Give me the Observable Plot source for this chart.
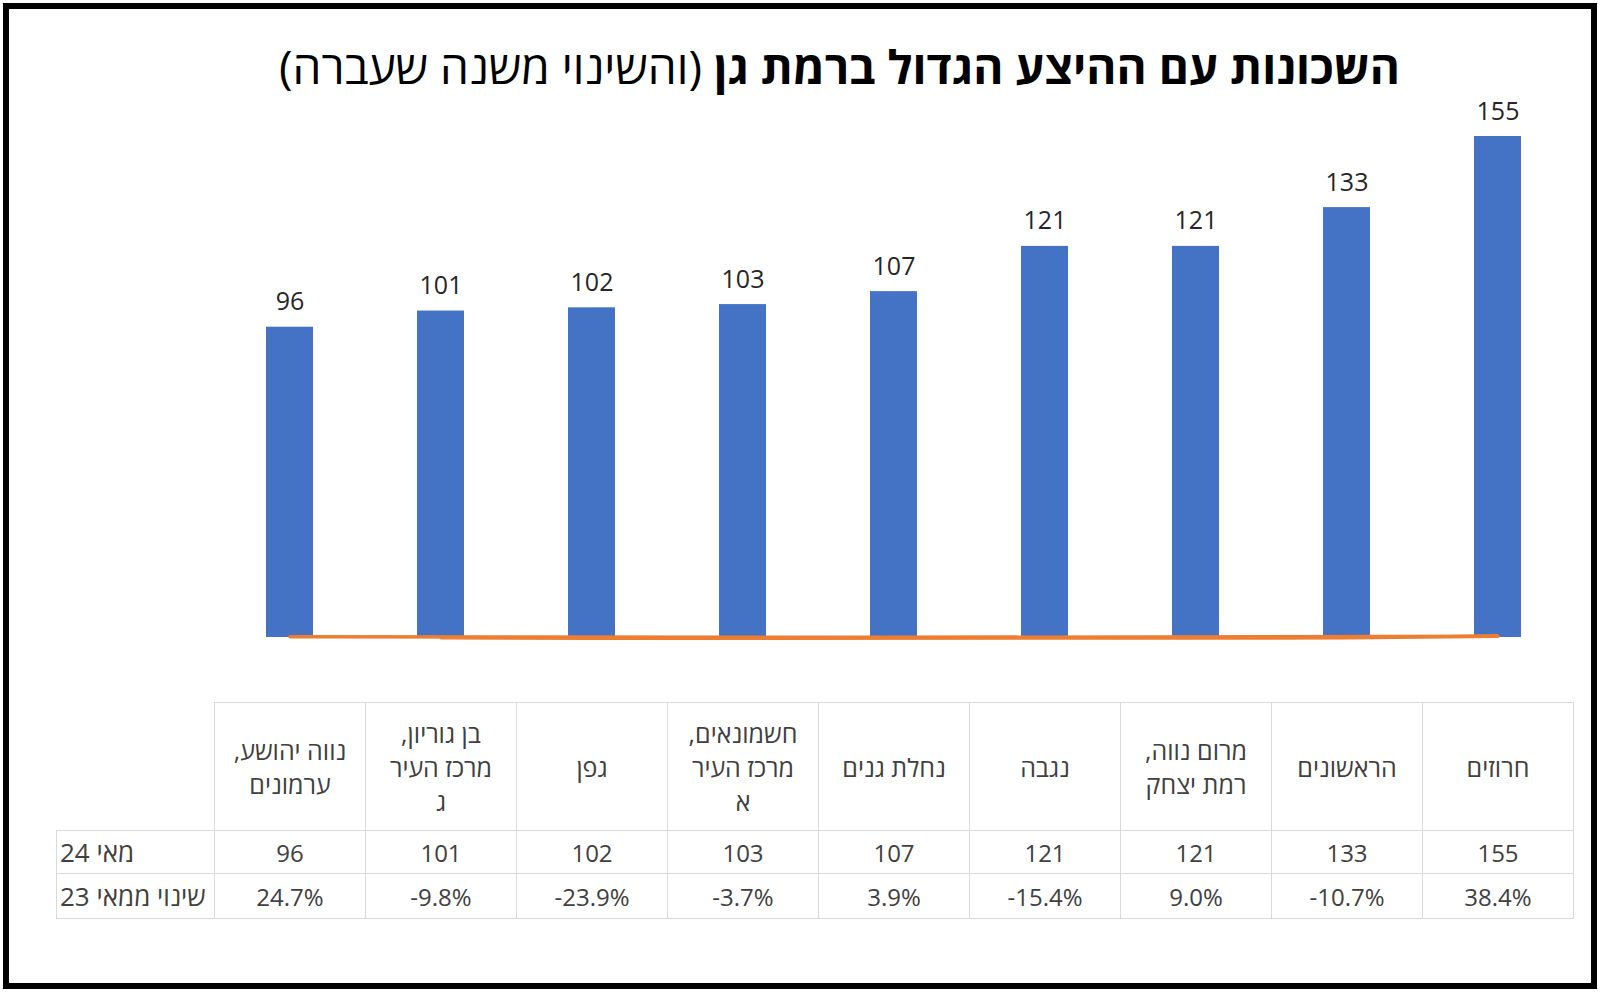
<!DOCTYPE html>
<html>
<head>
<meta charset="utf-8">
<script src="https://cdn.jsdelivr.net/npm/d3@7"></script>
<script src="https://cdn.jsdelivr.net/npm/@observablehq/plot@0.6"></script>
<style>
  html, body { margin: 0; padding: 0; background: #fff; }
  body { width: 1600px; height: 994px; position: relative; overflow: hidden;
         font-family: "Open Sans", "Liberation Sans", "DejaVu Sans", sans-serif; }
  #frame { position: absolute; left: 3px; top: 3px; width: 1594px; height: 986px;
           box-sizing: border-box; border: 6px solid #000; pointer-events: none; }
  #title { position: absolute; top: 36px; right: 200px; direction: rtl; white-space: nowrap;
           font-size: 46px; line-height: 60px; color: #000; }
  #title b { font-weight: 700; }
  #title span { font-weight: 400; }
  #chart { position: absolute; left: 0; top: 0; }
  #tbl { position: absolute; left: 56px; top: 702px; border-collapse: collapse; table-layout: fixed;
         font-size: 24px; color: #404040; }
  #tbl td { border: 1px solid #d9d9d9; padding: 0; text-align: center; vertical-align: middle; }
  #tbl td.corner { border-top: none; border-left: none; }
  #tbl td.rowh { text-align: left; direction: ltr; padding-left: 3px; white-space: nowrap; font-size: 26px; }
  #tbl td.head { white-space: pre-line; line-height: 34px; direction: rtl; font-size: 25px; }
</style>
</head>
<body>
<div id="title"><b>השכונות עם ההיצע הגדול ברמת גן</b> <span>(והשינוי משנה שעברה)</span></div>
<div id="chart"></div>
<table id="tbl"></table>
<div id="frame"></div>
<script>
// Data (Excel order, right to left)
const neighborhoods = ["חרוזים", "הראשונים", "מרום נווה,\nרמת יצחק", "נגבה", "נחלת גנים",
  "חשמונאים,\nמרכז העיר\nא", "גפן", "בן גוריון,\nמרכז העיר\nג", "נווה יהושע,\nערמונים"];
const may24 = [155, 133, 121, 121, 107, 103, 102, 101, 96];
const changePct = [38.4, -10.7, 9.0, -15.4, 3.9, -3.7, -23.9, -9.8, 24.7];
const rowLabels = ["מאי 24", "שינוי ממאי 23"];

const data = neighborhoods.map((n, i) => ({name: n, value: may24[i], change: changePct[i] / 100}));
const order = neighborhoods.slice().reverse(); // RTL: first category on the right

const plot = Plot.plot({
  width: 1600,
  height: 660,
  marginLeft: 214,
  marginRight: 27,
  marginTop: 136,
  marginBottom: 23,
  x: {domain: order, paddingInner: 0.69, paddingOuter: 0.345, axis: null},
  y: {domain: [0, 155], axis: null},
  style: {fontFamily: "'Open Sans', 'Liberation Sans', 'DejaVu Sans', sans-serif", overflow: "visible"},
  marks: [
    Plot.barY(data, {x: "name", y: "value", fill: "#4472C4"}),
    Plot.line(data, {x: "name", y: "change", stroke: "#ED7D31", strokeWidth: 3.5, sort: {channel: "x"}}),
    Plot.text(data, {x: "name", y: "value", text: d => String(d.value), dy: -25,
      lineAnchor: "middle", fontSize: 25, fill: "#262626"})
  ]
});
document.getElementById("chart").appendChild(plot);

// Data table aligned with the x scale's bands
const xs = plot.scale("x");
const step = xs.step;
const tbl = document.getElementById("tbl");
const cg = document.createElement("colgroup");
const c0 = document.createElement("col"); c0.style.width = (214 - 56) + "px"; cg.appendChild(c0);
order.forEach(() => { const c = document.createElement("col"); c.style.width = step + "px"; cg.appendChild(c); });
tbl.appendChild(cg);
tbl.style.width = (214 - 56 + step * order.length) + "px";
const byName = new Map(data.map(d => [d.name, d]));

const r0 = tbl.insertRow(); r0.style.height = "128px";
const corner = r0.insertCell(); corner.className = "corner";
order.forEach(n => { const c = r0.insertCell(); c.className = "head"; c.textContent = n; });

const r1 = tbl.insertRow(); r1.style.height = "43px";
const h1 = r1.insertCell(); h1.className = "rowh"; h1.textContent = rowLabels[0];
order.forEach(n => { const c = r1.insertCell(); c.textContent = String(byName.get(n).value); });

const r2 = tbl.insertRow(); r2.style.height = "45px";
const h2 = r2.insertCell(); h2.className = "rowh"; h2.textContent = rowLabels[1];
order.forEach(n => { const c = r2.insertCell(); c.textContent = (byName.get(n).change * 100).toFixed(1) + "%"; });
</script>
</body>
</html>
